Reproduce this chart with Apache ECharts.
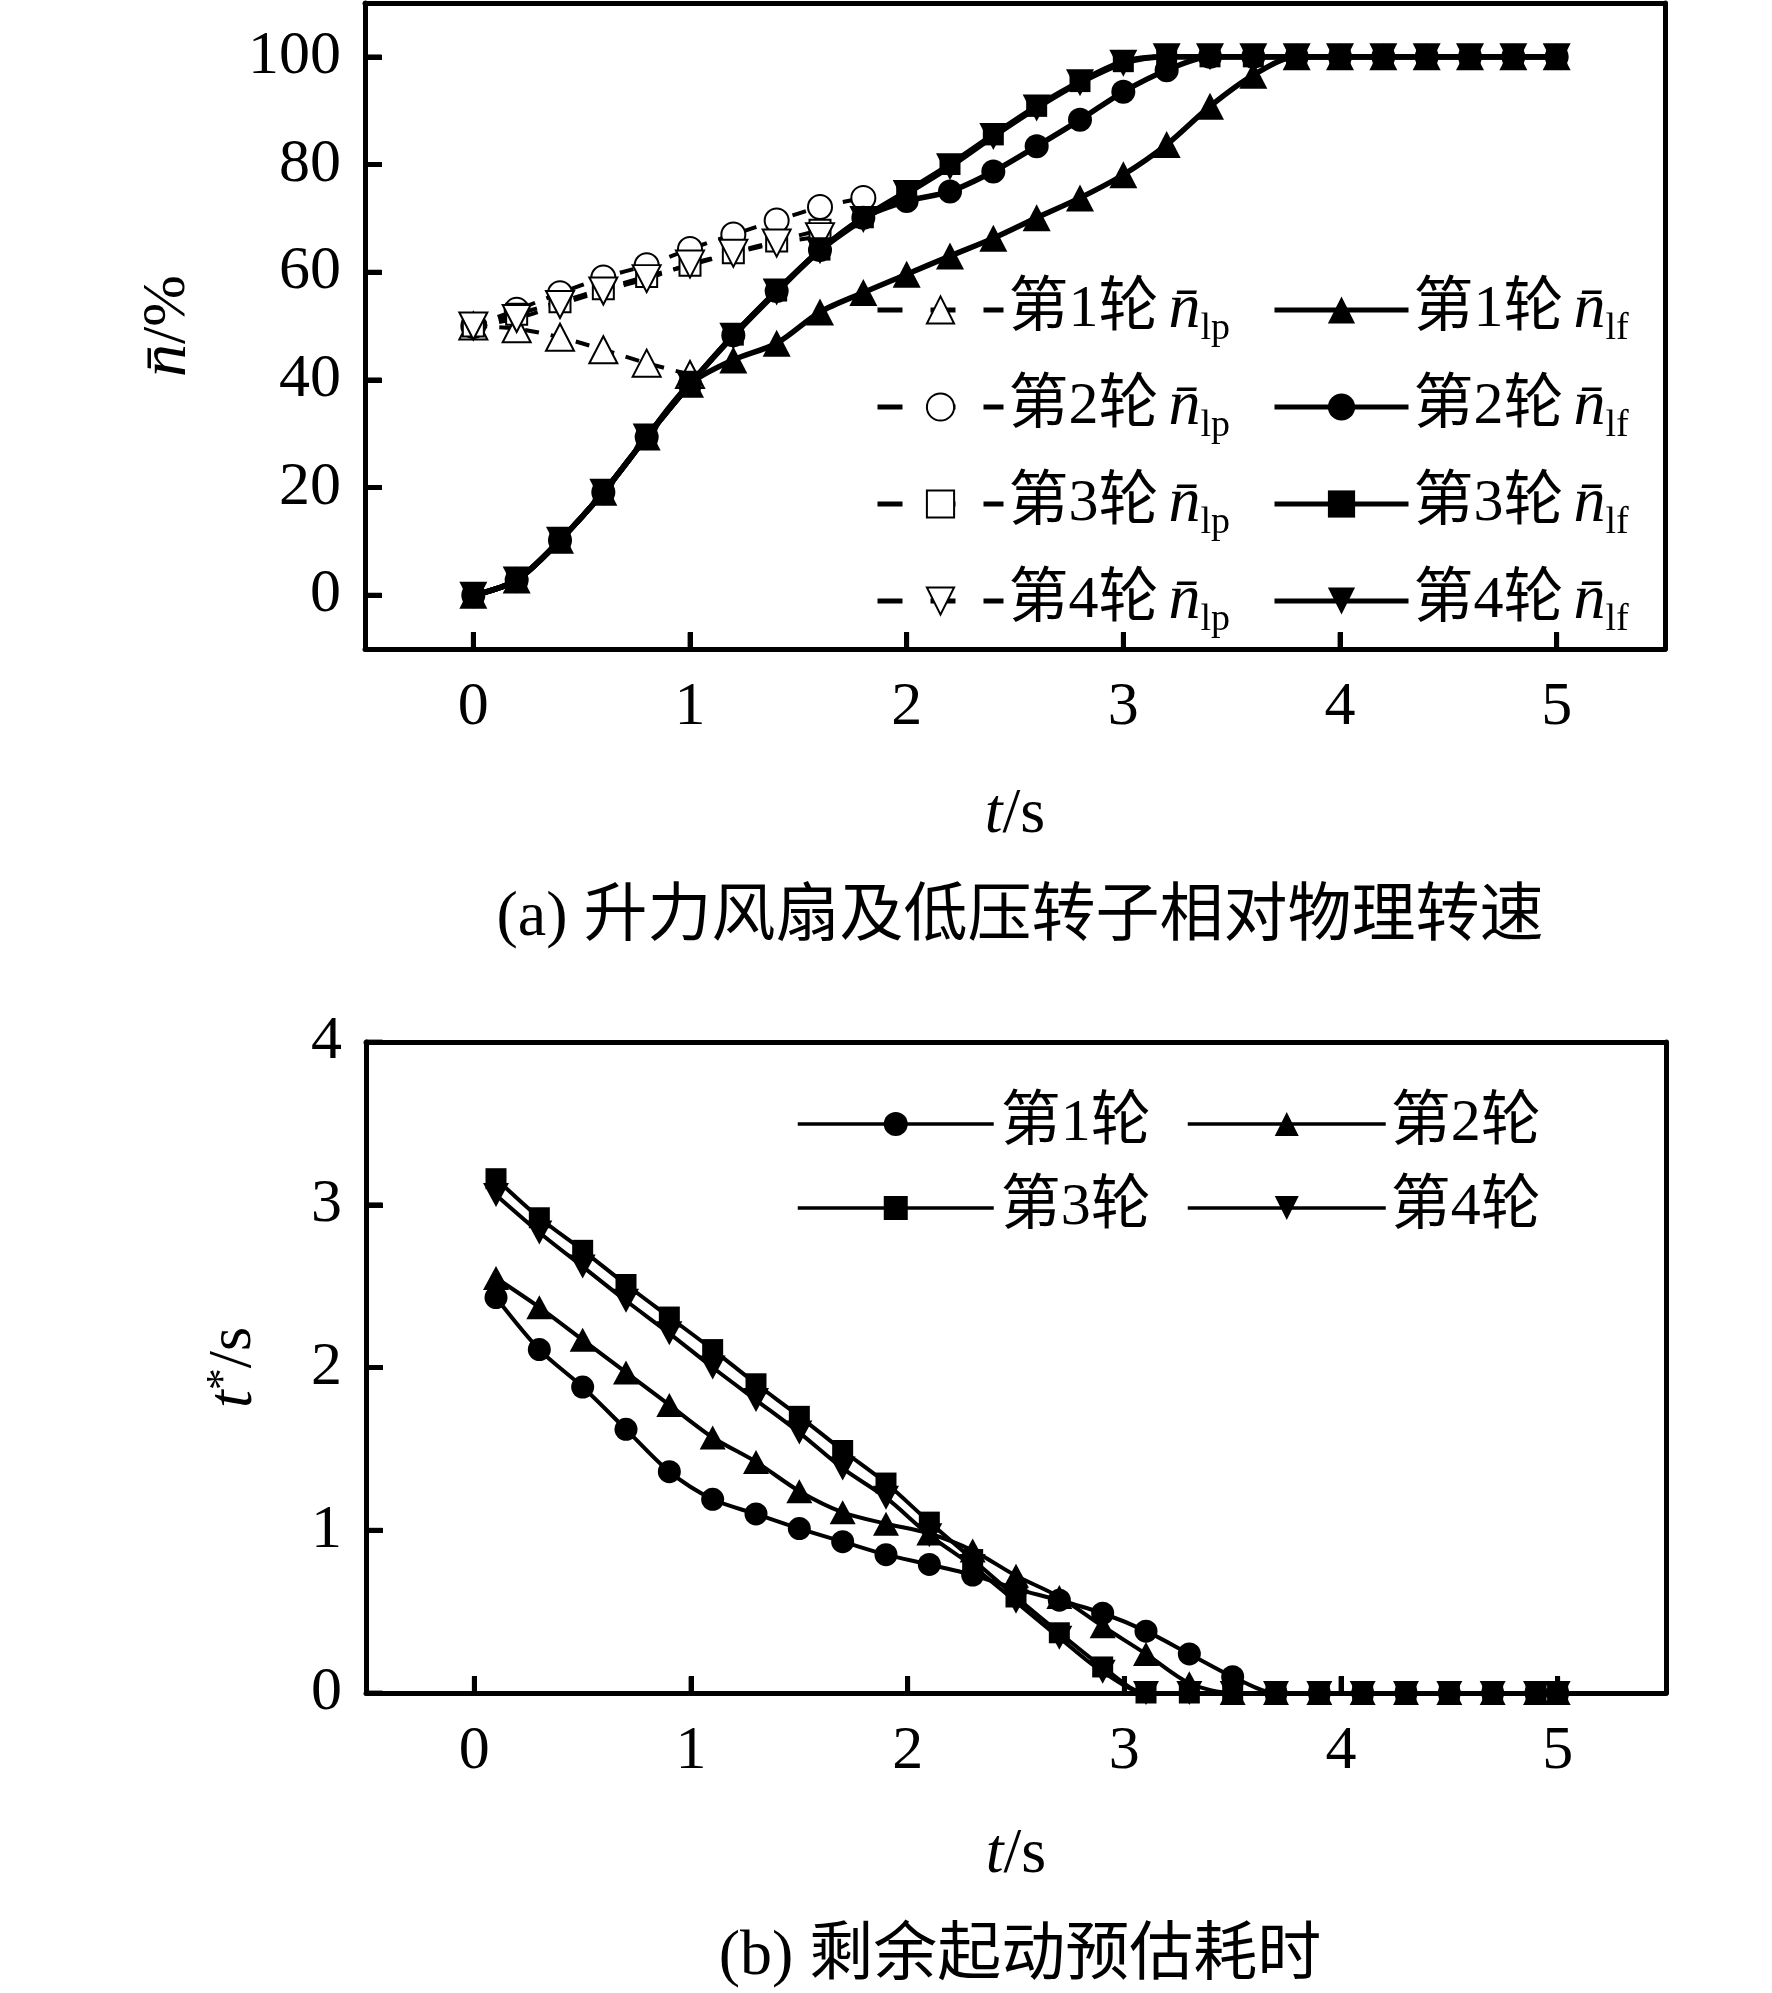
<!DOCTYPE html>
<html>
<head>
<meta charset="utf-8">
<script src="https://cdn.jsdelivr.net/npm/echarts@6/dist/echarts.min.js"></script>
<style>
html, body { margin: 0; padding: 0; background: #fff; }
#main { width: 1772px; height: 1993px; }
</style>
</head>
<body>
<div id="main"></div>
<script>
var SERIF = "'Liberation Serif', 'Noto Sans CJK SC', serif";

// ---- (a) relative speed, percent ----
var timeA = [0, 0.2, 0.4, 0.6, 0.8, 1.0, 1.2, 1.4, 1.6, 1.8, 2.0, 2.2, 2.4,
             2.6, 2.8, 3.0, 3.2, 3.4, 3.6, 3.8, 4.0, 4.2, 4.4, 4.6, 4.8, 5.0];
var lf1 = [0, 2.8, 10.2, 19.1, 29.4, 39.2, 43.7, 46.8, 52.6, 56.2, 59.6, 63.0, 66.3,
           70.1, 73.8, 78.1, 83.7, 90.8, 96.6, 100, 100, 100, 100, 100, 100, 100];
var lf2 = [0, 2.8, 10.2, 19.1, 29.4, 39.2, 48.3, 56.5, 64.1, 70.1, 73.2, 75.0, 78.7,
           83.4, 88.3, 93.5, 97.5, 100, 100, 100, 100, 100, 100, 100, 100, 100];
var lf3 = [0, 2.8, 10.2, 19.1, 29.4, 39.2, 48.3, 56.5, 64.1, 70.1, 75.0, 80.0, 85.5,
           90.8, 95.4, 99.1, 100, 100, 100, 100, 100, 100, 100, 100, 100, 100];
var lf4 = [0, 2.8, 10.2, 19.1, 29.4, 39.2, 48.1, 56.3, 64.0, 69.8, 74.6, 79.6, 85.2,
           90.5, 95.2, 98.8, 100, 100, 100, 100, 100, 100, 100, 100, 100, 100];
var lp1 = [50, 49.5, 47.9, 45.6, 43.1, 41.0];
var lp2 = [50, 53.0, 56.1, 59.0, 61.3, 64.3, 67.0, 69.6, 72.1, 73.8];
var lp3 = [50, 52.2, 54.5, 56.9, 59.2, 61.3, 63.6, 65.8, 67.8];
var lp4 = [50, 51.4, 54.0, 56.5, 58.8, 61.5, 63.5, 65.4, 66.6];

// ---- (b) remaining start time estimate, s ----
var timeB = [0.1, 0.3, 0.5, 0.7, 0.9, 1.1, 1.3, 1.5, 1.7, 1.9, 2.1, 2.3, 2.5,
             2.7, 2.9, 3.1, 3.3, 3.5, 3.7, 3.9, 4.1, 4.3, 4.5, 4.7, 4.9, 5.0];
var r1 = [2.43, 2.11, 1.88, 1.62, 1.36, 1.19, 1.10, 1.01, 0.93, 0.85, 0.79, 0.725, 0.64,
          0.57, 0.49, 0.38, 0.24, 0.10, 0, 0, 0, 0, 0, 0, 0, 0];
var r2 = [2.55, 2.37, 2.17, 1.97, 1.77, 1.57, 1.42, 1.24, 1.11, 1.04, 0.98, 0.875, 0.72,
          0.59, 0.41, 0.24, 0.06, 0, 0, 0, 0, 0, 0, 0, 0, 0];
var r3 = [3.16, 2.92, 2.72, 2.51, 2.31, 2.11, 1.90, 1.70, 1.49, 1.29, 1.05, 0.82, 0.59,
          0.37, 0.16, 0, 0, 0, 0, 0, 0, 0, 0, 0, 0, 0];
var r4 = [3.06, 2.83, 2.62, 2.41, 2.21, 2.00, 1.80, 1.60, 1.38, 1.20, 0.97, 0.78, 0.56,
          0.34, 0.13, 0, 0, 0, 0, 0, 0, 0, 0, 0, 0, 0];

// axis ranges and tick values
var xMin = -0.5, xMax = 5.5;
var yMinA = -10, yMaxA = 110;
var yMinB = 0, yMaxB = 4;
var xTicks = [0, 1, 2, 3, 4, 5];
var yTicksA = [0, 20, 40, 60, 80, 100];
var yTicksB = [0, 1, 2, 3, 4];

var lpNames = ['第1轮 n_lp', '第2轮 n_lp', '第3轮 n_lp', '第4轮 n_lp'];
var lfNames = ['第1轮 n_lf', '第2轮 n_lf', '第3轮 n_lf', '第4轮 n_lf'];
var roundNames = ['第1轮', '第2轮', '第3轮', '第4轮'];

var DOWN = 'path://M0,0 L10,0 L5,10 Z';
var symA = ['triangle', 'circle', 'rect', DOWN];
var sizeA = [[28, 27], 24, 21, [28, 27]];
var symB = ['circle', 'triangle', 'rect', DOWN];
var sizeB = [23, [26, 24], 21, [26, 24]];

function pairs(xs, ys) {
    var out = [];
    for (var i = 0; i < ys.length; i++) {
        out.push([xs[i], ys[i]]);
    }
    return out;
}

var frameLine = { show: true, onZero: false, lineStyle: { color: '#000', width: 5 } };

function axisTick(values) {
    return { show: true, inside: true, length: 17, lineStyle: { color: '#000', width: 5 }, customValues: values };
}

function xAxisFor(gridIndex, gap) {
    return {
        gridIndex: gridIndex,
        type: 'value',
        position: 'bottom',
        min: xMin,
        max: xMax,
        axisLine: frameLine,
        splitLine: { show: false },
        axisTick: axisTick(xTicks),
        axisLabel: { customValues: xTicks, margin: 28, color: '#000', fontSize: 62, fontFamily: SERIF },
        name: '{t|t}{r|/s}',
        nameLocation: 'middle',
        nameGap: gap,
        nameTextStyle: {
            rich: {
                t: { fontSize: 64, fontStyle: 'italic', fontFamily: SERIF, color: '#000' },
                r: { fontSize: 64, fontFamily: SERIF, color: '#000' }
            }
        }
    };
}

// plain axis that closes the box on top / right
function frameAxis(gridIndex, position) {
    return {
        gridIndex: gridIndex,
        type: 'value',
        position: position,
        min: 0,
        max: 1,
        axisLine: frameLine,
        axisTick: { show: false },
        axisLabel: { show: false },
        splitLine: { show: false }
    };
}

// inward tick marks, placed through the axes' own scales
function tickSeries(axisIdx, points, size, offset) {
    return {
        type: 'scatter',
        xAxisIndex: axisIdx,
        yAxisIndex: axisIdx,
        data: points,
        symbol: 'rect',
        symbolSize: size,
        symbolOffset: offset,
        itemStyle: { color: '#000' },
        silent: true,
        clip: false,
        z: 5
    };
}

// legend label: '第1轮 n_lp' -> 第1轮 n̄ with subscript
function legendLabel(name) {
    var p = name.split(' n_');
    if (p.length < 2) {
        return '{t|' + name + '}';
    }
    return '{t|' + p[0] + '}{n|n\u0304}{s|' + p[1] + '}';
}

function legendRich(pad) {
    return {
        t: { fontSize: 60, fontFamily: SERIF, color: '#000', lineHeight: 76, padding: [0, 0, 0, pad] },
        n: { fontSize: 64, fontStyle: 'italic', fontFamily: SERIF, color: '#000', lineHeight: 76, padding: [0, 0, 0, 10] },
        s: { fontSize: 38, fontFamily: SERIF, color: '#000', lineHeight: 30, verticalAlign: 'bottom' }
    };
}

var series = [];
var lpData = [lp1, lp2, lp3, lp4];
var lfData = [lf1, lf2, lf3, lf4];
var rData = [r1, r2, r3, r4];

for (var i = 0; i < 4; i++) {
    series.push({
        name: lpNames[i],
        type: 'line',
        xAxisIndex: 0,
        yAxisIndex: 0,
        data: pairs(timeA, lpData[i]),
        smooth: 0.3,
        symbol: symA[i],
        symbolSize: sizeA[i],
        lineStyle: { color: '#000', width: 4, type: [14, 12] },
        itemStyle: { color: '#fff', borderColor: '#000', borderWidth: 2 },
        z: 2
    });
}
for (var j = 0; j < 4; j++) {
    series.push({
        name: lfNames[j],
        type: 'line',
        xAxisIndex: 0,
        yAxisIndex: 0,
        data: pairs(timeA, lfData[j]),
        smooth: 0.3,
        symbol: symA[j],
        symbolSize: sizeA[j],
        lineStyle: { color: '#000', width: 5.5 },
        itemStyle: { color: '#000', borderWidth: 0 },
        z: 3
    });
}
for (var k = 0; k < 4; k++) {
    series.push({
        name: roundNames[k],
        type: 'line',
        xAxisIndex: 1,
        yAxisIndex: 1,
        data: pairs(timeB, rData[k]),
        smooth: 0.3,
        symbol: symB[k],
        symbolSize: sizeB[k],
        lineStyle: { color: '#000', width: 4 },
        itemStyle: { color: '#000', borderWidth: 0 },
        z: 3
    });
}

series.push(tickSeries(0, xTicks.map(function (v) { return [v, yMinA]; }), [5, 17], [0, -8]));
series.push(tickSeries(0, yTicksA.map(function (v) { return [xMin, v]; }), [17, 5], [8, 0]));
series.push(tickSeries(1, xTicks.map(function (v) { return [v, yMinB]; }), [5, 17], [0, -8]));
series.push(tickSeries(1, yTicksB.map(function (v) { return [xMin, v]; }), [17, 5], [8, 0]));

var option = {
    backgroundColor: '#fff',
    animation: false,
    grid: [
        { left: 365, top: 3, width: 1300, height: 646 },
        { left: 366, top: 1042, width: 1300, height: 651 }
    ],
    xAxis: [
        xAxisFor(0, 134),
        xAxisFor(1, 130),
        frameAxis(0, 'top'),
        frameAxis(1, 'top')
    ],
    yAxis: [
        {
            gridIndex: 0,
            type: 'value',
            position: 'left',
            min: yMinA,
            max: yMaxA,
            axisLine: frameLine,
            splitLine: { show: false },
            axisTick: axisTick(yTicksA),
            axisLabel: { customValues: yTicksA, margin: 24, color: '#000', fontSize: 62, fontFamily: SERIF },
            name: '{n|n\u0304}{r|/%}',
            nameLocation: 'middle',
            nameRotate: 90,
            nameGap: 164,
            nameTextStyle: {
                rich: {
                    n: { fontSize: 66, fontStyle: 'italic', fontFamily: SERIF, color: '#000' },
                    r: { fontSize: 62, fontFamily: SERIF, color: '#000' }
                }
            }
        },
        {
            gridIndex: 1,
            type: 'value',
            position: 'left',
            min: yMinB,
            max: yMaxB,
            axisLine: frameLine,
            splitLine: { show: false },
            axisTick: axisTick(yTicksB),
            axisLabel: { customValues: yTicksB, margin: 24, color: '#000', fontSize: 62, fontFamily: SERIF },
            name: '{t|t}{sup|*}{r|/s}',
            nameLocation: 'middle',
            nameRotate: 90,
            nameGap: 100,
            nameTextStyle: {
                rich: {
                    t: { fontSize: 64, fontStyle: 'italic', fontFamily: SERIF, color: '#000', lineHeight: 64 },
                    sup: { fontSize: 44, fontFamily: SERIF, color: '#000', lineHeight: 30, verticalAlign: 'top' },
                    r: { fontSize: 62, fontFamily: SERIF, color: '#000', lineHeight: 64 }
                }
            }
        },
        frameAxis(0, 'right'),
        frameAxis(1, 'right')
    ],
    legend: [
        {
            data: lpNames, orient: 'vertical', left: 875, top: 278, itemGap: 27, padding: 0,
            itemWidth: 126, itemHeight: 34, selectedMode: false,
            lineStyle: { type: [25, 28], width: 5 },
            formatter: legendLabel,
            textStyle: { rich: legendRich(0) }
        },
        {
            data: lfNames, orient: 'vertical', left: 1272, top: 278, itemGap: 27, padding: 0,
            itemWidth: 134, itemHeight: 34, selectedMode: false,
            lineStyle: { width: 5 },
            formatter: legendLabel,
            textStyle: { rich: legendRich(0) }
        },
        {
            data: ['第1轮', '第3轮'], orient: 'vertical', left: 796, top: 1094, itemGap: 24, padding: 0,
            itemWidth: 196, itemHeight: 30, selectedMode: false,
            lineStyle: { width: 3.5 },
            formatter: legendLabel,
            textStyle: { rich: { t: { fontSize: 60, fontFamily: SERIF, color: '#000', lineHeight: 70, padding: [0, 0, 0, 2] } } }
        },
        {
            data: ['第2轮', '第4轮'], orient: 'vertical', left: 1186, top: 1094, itemGap: 24, padding: 0,
            itemWidth: 198, itemHeight: 30, selectedMode: false,
            lineStyle: { width: 3.5 },
            formatter: legendLabel,
            textStyle: { rich: { t: { fontSize: 60, fontFamily: SERIF, color: '#000', lineHeight: 70 } } }
        }
    ],
    graphic: [
        {
            type: 'text', x: 1020, y: 918,
            style: { text: '(a) 升力风扇及低压转子相对物理转速', fontSize: 64, fontFamily: SERIF, fill: '#000', align: 'center', verticalAlign: 'middle' }
        },
        {
            type: 'text', x: 1020, y: 1957,
            style: { text: '(b) 剩余起动预估耗时', fontSize: 64, fontFamily: SERIF, fill: '#000', align: 'center', verticalAlign: 'middle' }
        }
    ],
    series: series
};

var chart = echarts.init(document.getElementById('main'));
chart.setOption(option);
</script>
</body>
</html>
